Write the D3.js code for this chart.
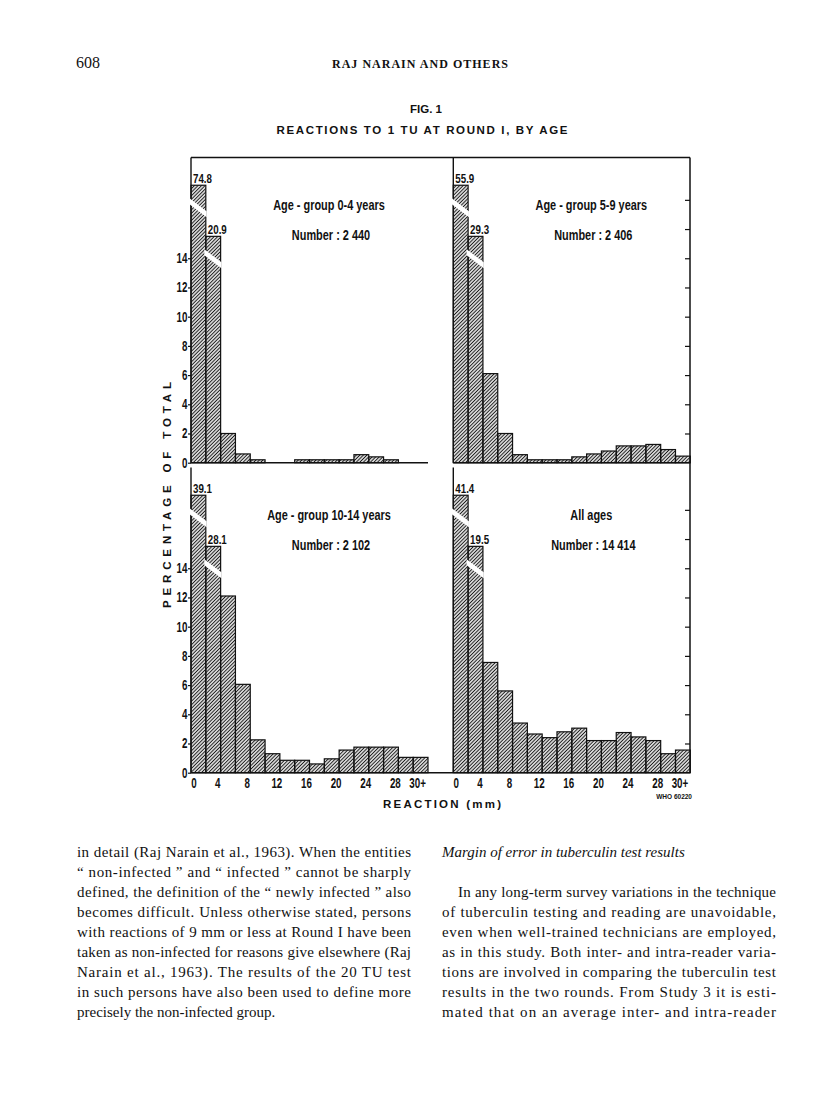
<!DOCTYPE html>
<html>
<head>
<meta charset="utf-8">
<script src="https://cdn.jsdelivr.net/npm/d3@7"></script>
<style>
body { margin: 0; background: #fff; }
svg text { fill: #111; }
.cond { font-family: 'Liberation Sans', Arial, sans-serif; font-weight: bold; }
.sans { font-family: 'Liberation Sans', Arial, sans-serif; font-weight: bold; }
.serif { font-family: 'Liberation Serif', 'Times New Roman', serif; }
</style>
</head>
<body>
<svg id="page" width="816" height="1094"></svg>
<script>

// reaction bins (mm), 2 mm wide, last one is 30+
var binStart = [0, 2, 4, 6, 8, 10, 12, 14, 16, 18, 20, 22, 24, 26, 28, 30];
var tickMm = [0, 4, 8, 12, 16, 20, 24, 28, 30];
var tickText = ["0", "4", "8", "12", "16", "20", "24", "28", "30+"];
var yTickVals = [0, 2, 4, 6, 8, 10, 12, 14];
var rightTickVals = [2, 4, 6, 8, 10, 12, 14, 16, 18];

// percentage of total per bin
var age0to4 = [74.8, 20.9, 2.0, 0.6, 0.2, 0, 0, 0.2, 0.2, 0.2, 0.2, 0.55, 0.4, 0.2, 0, 0];
var age5to9 = [55.9, 29.3, 6.1, 2.0, 0.55, 0.2, 0.2, 0.2, 0.4, 0.6, 0.8, 1.15, 1.15, 1.25, 0.9, 0.45];
var age10to14 = [39.1, 28.1, 12.1, 6.05, 2.25, 1.3, 0.85, 0.85, 0.6, 0.95, 1.55, 1.75, 1.75, 1.75, 1.05, 1.05];
var allAges = [41.4, 19.5, 7.55, 5.6, 3.4, 2.65, 2.4, 2.8, 3.05, 2.2, 2.2, 2.75, 2.45, 2.2, 1.3, 1.55];

var panelTitles = ["Age - group 0-4 years", "Age - group 5-9 years", "Age - group 10-14 years", "All  ages"];
var panelNumbers = ["Number : 2 440", "Number : 2 406", "Number : 2 102", "Number : 14 414"];
var panelValues = [age0to4, age5to9, age10to14, allAges];

var leftText = [
  "in detail (Raj Narain et al., 1963).  When the entities",
  "\u201C non-infected \u201D and \u201C infected \u201D cannot be sharply",
  "defined, the definition of the \u201C newly infected \u201D also",
  "becomes difficult.  Unless otherwise stated, persons",
  "with reactions of 9 mm or less at Round I have been",
  "taken as non-infected for reasons give elsewhere (Raj",
  "Narain et al., 1963).  The results of the 20 TU test",
  "in such persons have also been used to define more",
  "precisely the non-infected group."
];
var rightText = [
  "In any long-term survey variations in the technique",
  "of tuberculin testing and reading are unavoidable,",
  "even when well-trained technicians are employed,",
  "as in this study.  Both inter- and intra-reader varia-",
  "tions are involved in comparing the tuberculin test",
  "results in the two rounds.  From Study 3 it is esti-",
  "mated that on an average inter- and intra-reader"
];

var svg = d3.select('#page');

// layout of the figure frame
var frameLeft = 191, frameRight = 690, frameTop = 157.5;
var panelW = 237, colStep = 262.3, rowStep = 310, panelH = 305.2;
var firstBase = 462.7;
var yMax = 20.9;
var cutAt = [19.0, 15.5];   // drawn height of the two broken bars
var squeeze = 0.72;         // no condensed face installed, so squeeze glyphs

function condAt(x, y, s) {
    return 'translate(' + x + ',' + y + ') scale(' + (s || squeeze) + ',1)';
}

var defs = svg.append('defs');
var hatch = defs.append('pattern')
    .attr('id', 'hatch')
    .attr('patternUnits', 'userSpaceOnUse')
    .attr('width', 2.5).attr('height', 2.5)
    .attr('patternTransform', 'rotate(45)');
hatch.append('line')
    .attr('x1', 1.25).attr('y1', 0).attr('x2', 1.25).attr('y2', 2.5)
    .attr('stroke', '#1a1a1a').attr('stroke-width', 1.15);

var fig = svg.append('g');

panelValues.forEach(function(vals, i) {
    var col = i % 2, row = Math.floor(i / 2);
    var x0 = frameLeft + col * colStep;
    var base = firstBase + row * rowStep;
    var top = base - panelH;

    var x = d3.scaleLinear().domain([0, 32]).range([x0, x0 + panelW]);
    var y = d3.scaleLinear().domain([0, yMax]).range([base, top]);

    var g = fig.append('g').attr('class', 'panel');

    var bars = vals.map(function(v, j) {
        return { start: binStart[j], v: v, shown: j < cutAt.length ? Math.min(v, cutAt[j]) : v, j: j };
    });

    g.selectAll('rect.bar')
        .data(bars)
        .enter().append('rect')
        .attr('class', 'bar')
        .attr('x', function(d) { return x(d.start); })
        .attr('width', function(d) { return x(d.start + 2) - x(d.start); })
        .attr('y', function(d) { return y(d.shown); })
        .attr('height', function(d) { return base - y(d.shown); })
        .attr('fill', 'url(#hatch)')
        .attr('stroke', '#111')
        .attr('stroke-width', 1.2)
        .style('display', function(d) { return d.v > 0 ? null : 'none'; });

    // panel axis line and baseline
    g.append('line')
        .attr('x1', x0).attr('x2', x0)
        .attr('y1', top).attr('y2', base)
        .attr('stroke', '#111').attr('stroke-width', 1.4);
    g.append('line')
        .attr('x1', x0).attr('x2', row == 1 && col == 0 ? x0 + colStep : x0 + panelW)
        .attr('y1', base).attr('y2', base)
        .attr('stroke', '#111').attr('stroke-width', 1.4);

    // breaks in the tall bars
    var broken = bars.filter(function(d) { return d.j < cutAt.length && d.v > cutAt[d.j]; });
    g.selectAll('polygon.cut')
        .data(broken)
        .enter().append('polygon')
        .attr('class', 'cut')
        .attr('fill', '#fff')
        .attr('points', function(d) {
            var l = x(d.start) - 1.5, r = x(d.start + 2) + 0.8, t = y(d.shown);
            return [[l, t + 13], [r, t + 26], [r, t + 32], [l, t + 19]].join(' ');
        });

    g.selectAll('text.val')
        .data(broken)
        .enter().append('text')
        .attr('class', 'val cond')
        .attr('font-size', 13)
        .attr('transform', function(d) { return condAt(x(d.start) + 2, y(d.shown) - 2.5, 0.75); })
        .text(function(d) { return d.v.toFixed(1); });

    // y ticks
    if (col == 0) {
        var ax = g.append('g')
            .attr('transform', 'translate(' + x0 + ',0)')
            .call(d3.axisLeft(y).tickValues(yTickVals).tickSize(3).tickPadding(2).tickFormat(d3.format('d')));
        ax.select('.domain').remove();
        ax.selectAll('line').attr('stroke', '#111').attr('stroke-width', 1.2);
        ax.selectAll('text')
            .attr('class', 'cond').attr('font-size', 14).attr('fill', '#111')
            .attr('transform', 'scale(0.7,1)');
    } else {
        var axr = g.append('g')
            .attr('transform', 'translate(' + frameRight + ',0)')
            .call(d3.axisLeft(y).tickValues(rightTickVals).tickSize(5).tickFormat(''));
        axr.select('.domain').remove();
        axr.selectAll('line').attr('stroke', '#111').attr('stroke-width', 1.2);
    }

    // x tick labels on the lower panels
    if (row == 1) {
        g.selectAll('text.xt')
            .data(tickMm)
            .enter().append('text')
            .attr('class', 'xt cond')
            .attr('text-anchor', 'middle')
            .attr('font-size', 14)
            .attr('transform', function(d, k) {
                var dx = k == 0 ? 3 : (k == tickMm.length - 1 ? 4.5 : -3);
                return condAt(x(d) + dx, base + 15.5, 0.7);
            })
            .text(function(d, k) { return tickText[k]; });
    }

    g.append('text')
        .attr('class', 'cond')
        .attr('text-anchor', 'middle')
        .attr('font-size', 14)
        .attr('transform', condAt(x0 + 138, top + 52.5, 0.78))
        .text(panelTitles[i]);
    g.append('text')
        .attr('class', 'cond')
        .attr('text-anchor', 'middle')
        .attr('font-size', 14)
        .attr('transform', condAt(x0 + 140, top + 82, 0.78))
        .text(panelNumbers[i]);
});

// outer frame
fig.append('line')
    .attr('x1', frameLeft).attr('x2', frameRight)
    .attr('y1', frameTop).attr('y2', frameTop)
    .attr('stroke', '#111').attr('stroke-width', 1.5);
fig.append('line')
    .attr('x1', frameRight).attr('x2', frameRight)
    .attr('y1', frameTop).attr('y2', firstBase + rowStep)
    .attr('stroke', '#111').attr('stroke-width', 1.5);

// axis titles
fig.append('text')
    .attr('class', 'sans')
    .attr('font-size', 11.5)
    .attr('text-anchor', 'middle')
    .attr('transform', 'translate(171,495) rotate(-90)')
    .attr('textLength', 226)
    .attr('lengthAdjust', 'spacing')
    .text('PERCENTAGE OF TOTAL');
fig.append('text')
    .attr('class', 'sans')
    .attr('font-size', 11.5)
    .attr('text-anchor', 'middle')
    .attr('x', 442).attr('y', 808)
    .attr('textLength', 118)
    .attr('lengthAdjust', 'spacing')
    .text('REACTION (mm)');
fig.append('text')
    .attr('class', 'sans')
    .attr('font-size', 6.5)
    .attr('text-anchor', 'end')
    .attr('x', 692).attr('y', 799)
    .text('WHO 60220');

// page header and captions
svg.append('text').attr('class', 'serif').attr('font-size', 16)
    .attr('x', 76).attr('y', 68).text('608');
svg.append('text').attr('class', 'serif').attr('font-size', 12)
    .attr('font-weight', 'bold')
    .attr('text-anchor', 'middle').attr('x', 420).attr('y', 68)
    .attr('textLength', 176).attr('lengthAdjust', 'spacing')
    .text('RAJ NARAIN AND OTHERS');
svg.append('text').attr('class', 'sans').attr('font-size', 11.5)
    .attr('text-anchor', 'middle').attr('x', 426).attr('y', 113)
    .text('FIG. 1');
svg.append('text').attr('class', 'sans').attr('font-size', 11.5)
    .attr('text-anchor', 'middle').attr('x', 422).attr('y', 134)
    .attr('textLength', 291).attr('lengthAdjust', 'spacing')
    .text('REACTIONS TO 1 TU AT ROUND I, BY AGE');

// body text, two justified columns
var colL = 77, colR = 442, colW = 334, lineH = 20, firstLine = 857;
svg.selectAll('text.bl')
    .data(leftText)
    .enter().append('text')
    .attr('class', 'bl serif')
    .attr('font-size', 15)
    .attr('x', colL)
    .attr('y', function(d, k) { return firstLine + k * lineH; })
    .each(function(d, k) {
        if (k < leftText.length - 1) d3.select(this).attr('textLength', colW).attr('lengthAdjust', 'spacing');
    })
    .text(function(d) { return d; });

svg.append('text').attr('class', 'serif').attr('font-size', 15)
    .attr('font-style', 'italic')
    .attr('x', colR).attr('y', firstLine)
    .text('Margin of error in tuberculin test results');

svg.selectAll('text.br')
    .data(rightText)
    .enter().append('text')
    .attr('class', 'br serif')
    .attr('font-size', 15)
    .attr('x', function(d, k) { return k == 0 ? colR + 16 : colR; })
    .attr('y', function(d, k) { return firstLine + (k + 2) * lineH; })
    .attr('textLength', function(d, k) { return k == 0 ? colW - 16 : colW; })
    .attr('lengthAdjust', 'spacing')
    .text(function(d) { return d; });

</script>
</body>
</html>
